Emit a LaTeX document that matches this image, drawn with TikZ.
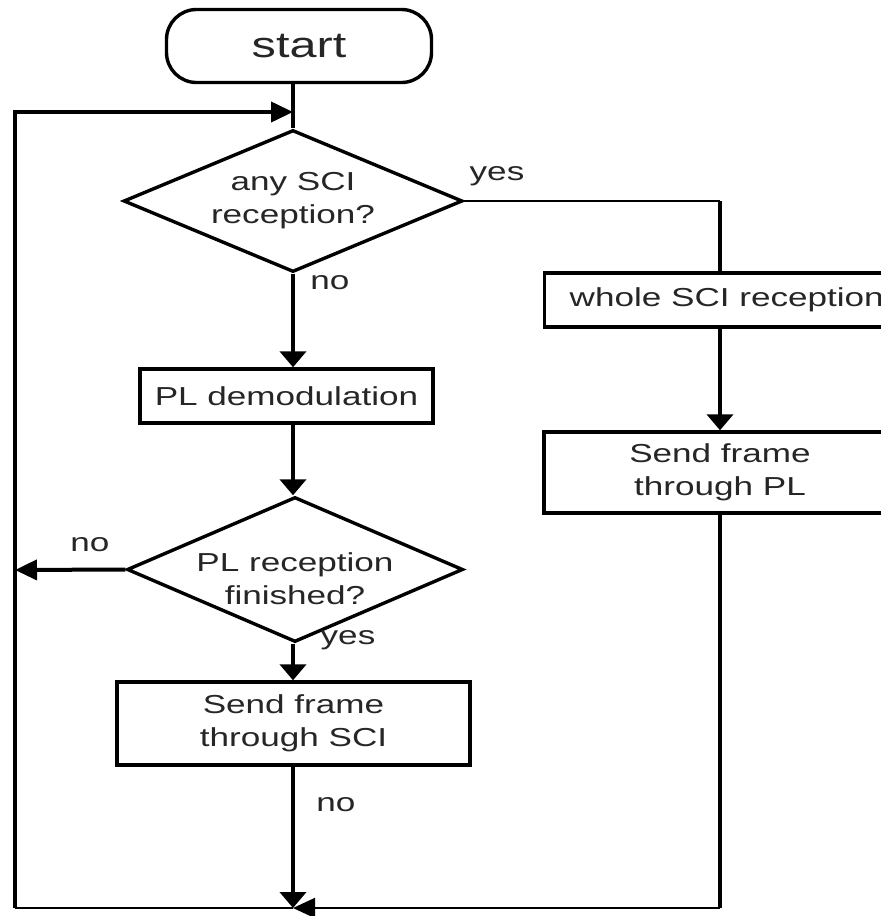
\documentclass[tikz,border=0pt]{standalone}
\usepackage{fontspec}
\setmainfont[FakeStretch=1.35]{Liberation Sans}
\usetikzlibrary{shapes.geometric,arrows.meta}
\newcommand\myfs{\fontsize{26}{33}\selectfont}
\newcommand\mystartfs{\fontsize{36}{40}\selectfont}
\begin{document}
\begin{tikzpicture}[x=1pt,y=-1pt,font=\myfs,
  proc/.style={draw, line width=3.4pt, inner sep=0pt, align=center, text=black!85},
  dec/.style={draw, diamond, aspect=2.4, line width=3.4pt, inner sep=0pt, align=center, text=black!85},
  thk/.style={line width=4pt},
  thn/.style={line width=2pt},
  va/.style={-{Triangle[length=16pt,width=26pt]}},
  ha/.style={-{Triangle[length=22pt,width=20pt]}},
  lbl/.style={text=black!85, inner sep=0pt}]
\useasboundingbox (0,0) rectangle (881,916);
\clip (0,0) rectangle (881,916);
\fill[white] (0,0) rectangle (881,916);

% nodes
\node[proc, rounded corners=30pt, minimum width=265pt, minimum height=73pt, font=\mystartfs] (start) at (299,46) {start};
\node[dec, minimum width=339pt, minimum height=142pt] (d1) at (293,201) {any SCI\\reception?};
\node[proc, minimum width=293pt, minimum height=54pt] (pld) at (286.5,396) {PL demodulation};
\node[dec, minimum width=336pt, minimum height=145pt] (d2) at (295,569.5) {};
\node[lbl, align=center] (t2) at (295,579) {PL reception\\finished?};
\node[proc, minimum width=353pt, minimum height=83pt] (ssci) at (293.5,723.5) {Send frame\\through SCI};
\node[proc, minimum height=54pt, anchor=west, inner xsep=25pt] (whole) at (543,300) {whole SCI reception};
\node[proc, minimum width=352pt, minimum height=81pt] (spl) at (720,472.5) {Send frame\\through PL};

% labels
\node[lbl] (yes1) at (497,176) {yes};
\node[lbl] (no1) at (330,283) {no};
\node[lbl] (no2) at (90,545) {no};
\node[lbl] (yes2) at (348,640) {yes};
\node[lbl] (no3) at (336,805) {no};

% helper coordinates
\coordinate (yc) at (720,201);
\coordinate (bot) at (293,908);
\coordinate (br) at (720,908);
\coordinate (bl) at (15,908);
\coordinate (tl) at (15,112);
\coordinate (top) at (293,112);
\coordinate (nol) at (15,570);

% connectors
\draw[thk] (start.south -| top) -- (d1.north);
\draw[thk, ha] (bl) -- (tl) -- (top);
\draw[thk, va] (d1.south) -- (pld.north -| d1.south);
\draw[thk, va] (pld.south -| d1.south) -- (d2.north -| d1.south);
\draw[thk, ha] (d2.west) -- (nol);
\draw[thk, va] (d2.south -| d1.south) -- (ssci.north -| d1.south);
\draw[thk, va] (ssci.south -| bot) -- (bot);
\draw[thn] (d1.east) -- (yc);
\draw[thk] (yc) -- (whole.north -| yc);
\draw[thk, va] (whole.south -| yc) -- (spl.north);
\draw[thk] (spl.south) -- (br);
\draw[thn, ha] (br) -- (bot);
\draw[thn] (bot) -- (bl);
\end{tikzpicture}
\end{document}
